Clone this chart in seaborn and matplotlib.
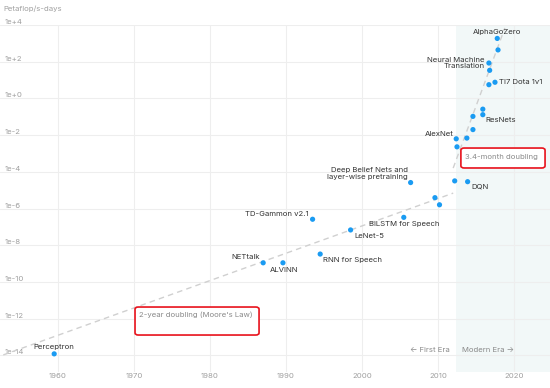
import matplotlib
matplotlib.use("Agg")
import matplotlib.pyplot as plt
import seaborn as sns
import pandas as pd
from matplotlib.patches import FancyBboxPatch

# data (year, petaflop/s-days)
names = ["Perceptron", "NETtalk", "ALVINN", "TD-Gammon v2.1", "RNN for Speech",
         "LeNet-5", "BiLSTM for Speech", "", "",
         "Deep Belief Nets and\nlayer-wise pretraining", "", "DQN", "",
         "AlexNet", "", "", "", "ResNets", "", "", "TI7 Dota 1v1", "",
         "Neural Machine\nTranslation", "", "AlphaGoZero"]
years = [1959.5, 1987.0, 1989.6, 1993.5, 1994.5,
         1998.5, 2005.5, 2009.6, 2010.2,
         2006.4, 2012.2, 2013.9, 2012.5,
         2012.4, 2013.8, 2014.6, 2014.6, 2015.9, 2015.9, 2016.7, 2017.5, 2016.8,
         2016.7, 2017.9, 2017.8]
values = [1.2e-14, 1.1e-9, 1.1e-9, 2.6e-7, 3.3e-9,
          6.8e-8, 3.3e-7, 3.9e-6, 1.6e-6,
          2.6e-5, 3.2e-5, 2.9e-5, 2.3e-3,
          6.3e-3, 6.9e-3, 2.0e-2, 0.105, 0.13, 0.26, 5.6, 7.6, 34,
          85, 440, 1860]

moore_years = [1952.8, 2012.0]
moore_values = [1.05e-14, 6.9e-6]
modern_years = [2012.0, 2018.8]
modern_values = [1.6e-4, 6.9e3]

x_ticks = [1960, 1970, 1980, 1990, 2000, 2010, 2020]
y_powers = [4, 2, 0, -2, -4, -6, -8, -10, -12, -14]
y_labels = ["1e+4", "1e+2", "1e+0", "1e-2", "1e-4", "1e-6", "1e-8", "1e-10", "1e-12", "1e-14"]
modern_start = 2012.4

FS = 5.6

# label placement: (dx px, dy px, ha)
label_pos = {
    "Perceptron": (0, 7, "center"),
    "NETtalk": (-3, 6, "right"),
    "ALVINN": (1, -7, "center"),
    "TD-Gammon v2.1": (-4, 5, "right"),
    "RNN for Speech": (3, -6, "left"),
    "LeNet-5": (4, -6, "left"),
    "BiLSTM for Speech": (0, -7, "center"),
    "Deep Belief Nets and\nlayer-wise pretraining": (-3, 9, "right"),
    "DQN": (4, -5, "left"),
    "AlexNet": (-3, 5, "right"),
    "ResNets": (3, -5, "left"),
    "TI7 Dota 1v1": (4, 0, "left"),
    "Neural Machine\nTranslation": (-4, 0, "right"),
    "AlphaGoZero": (0, 6, "center"),
}

df = pd.DataFrame({"name": names, "year": years, "value": values})

sns.set_theme(style="white")
plt.rcParams["font.family"] = ["Inter", "DejaVu Sans"]

fig = plt.figure(figsize=(5.5, 3.88), dpi=100)
ax = fig.add_axes([0, 0.0412, 1, 0.8943])

ax.axvspan(modern_start, 2030, color="#f2f8f8", zorder=0, lw=0)

sns.lineplot(x=moore_years, y=moore_values, ax=ax, color="#d0d0d0", lw=1,
             zorder=1).lines[-1].set_dashes([4, 3])
sns.lineplot(x=modern_years, y=modern_values, ax=ax, color="#d0d0d0", lw=1,
             zorder=1).lines[-1].set_dashes([4, 3])
sns.scatterplot(data=df, x="year", y="value", ax=ax, color="#1a9bf2", s=14,
                edgecolor="none", zorder=3)

ax.set_yscale("log")
ax.set_xlim(1952.37, 2024.74)
ax.set_ylim(10 ** -14.91, 1e4)
ax.set_xticks(x_ticks)
ax.set_xticklabels([str(t) for t in x_ticks])
ax.set_yticks([10.0 ** p for p in y_powers])
ax.set_yticklabels(y_labels)
ax.minorticks_off()
ax.grid(True, color="#eeeeee", lw=0.8, zorder=0)
ax.set_axisbelow(True)
for s in ax.spines.values():
    s.set_visible(False)
ax.tick_params(axis="x", length=0, pad=1, labelsize=FS, labelcolor="#a0a0a0")
ax.tick_params(axis="y", length=0, pad=-3, labelsize=FS, labelcolor="#a0a0a0")
for lab in ax.get_yticklabels():
    lab.set_horizontalalignment("left")
    lab.set_verticalalignment("bottom")
ax.set_xlabel("")
ax.set_ylabel("")

for n, x, y in zip(names, years, values):
    if not n:
        continue
    dx, dy, ha = label_pos[n]
    ax.annotate(n, (x, y), xytext=(dx, dy), textcoords="offset pixels",
                ha=ha, va="center", fontsize=FS, color="#333333",
                linespacing=1.1, multialignment=ha if ha != "center" else "center",
                zorder=4)

# red annotation boxes
for (x0, y0, w, h), (tx, ty), txt in [
        ((0.2455, 0.1066, 0.2255, 0.0807), (0.2527, 0.164), "2-year doubling (Moore's Law)"),
        ((0.838, 0.588, 0.153, 0.0575), (0.8455, 0.619), "3.4-month doubling")]:
    ax.add_patch(FancyBboxPatch((x0, y0), w, h, boxstyle="round,pad=0,rounding_size=0.006",
                                transform=ax.transAxes, fc="white", ec="#e8121c", lw=1.2,
                                zorder=5))
    ax.text(tx, ty, txt, transform=ax.transAxes, ha="left", va="center",
            fontsize=FS, color="#8a8a8a", zorder=6)

ax.text(0.818, 0.0634, "\u2190 First Era", transform=ax.transAxes, ha="right",
        va="center", fontsize=FS, color="#8a8a8a")
ax.text(0.84, 0.0634, "Modern Era \u2192", transform=ax.transAxes, ha="left",
        va="center", fontsize=FS, color="#8a8a8a")

fig.text(0.0055, 0.977, "Petaflop/s-days", ha="left", va="center",
         fontsize=FS, color="#a0a0a0")

fig.savefig("out.png", dpi=100)
